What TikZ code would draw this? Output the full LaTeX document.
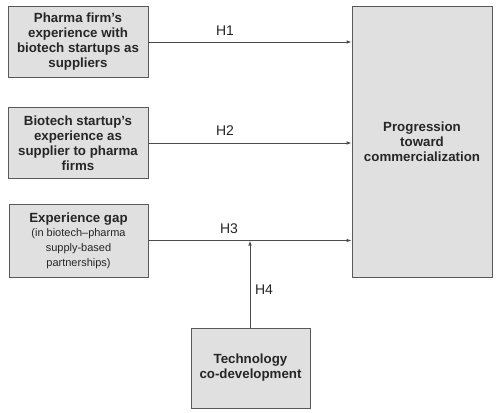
\documentclass[tikz,border=0pt]{standalone}
\usepackage{fontspec}
\setmainfont{Liberation Sans}
\usetikzlibrary{arrows.meta}
\begin{document}
\begin{tikzpicture}[x=1pt,y=-1pt,
  box/.style={draw=black!65, fill=black!12, line width=0.8pt, inner sep=0pt, align=center, text=black!85, font=\fontsize{13.3}{15}\selectfont\bfseries},
  conn/.style={draw=black!70, line width=0.8pt, -{Latex[length=5pt,width=3.5pt]}},
  hlab/.style={font=\fontsize{14}{16}\selectfont, text=black!85}]
\useasboundingbox (0,0) rectangle (500,412);
\node[box, minimum width=140pt, minimum height=71pt] (b1) at (78,41.5) {Pharma firm's\\experience with\\biotech startups as\\suppliers};
\node[box, minimum width=140pt, minimum height=71pt] (b2) at (78,143) {Biotech startup's\\experience as\\supplier to pharma\\firms};
\node[box, minimum width=139pt, minimum height=73pt] (b3) at (78.5,240.5) {Experience gap\\[-1pt]{\fontsize{11}{13.5}\selectfont\mdseries (in biotech--pharma}\\{\fontsize{11}{13.5}\selectfont\mdseries supply-based}\\{\fontsize{11}{13.5}\selectfont\mdseries partnerships)}};
\node[box, minimum width=119pt, minimum height=80pt] (b4) at (250.5,368) {Technology\\co-development};
\node[box, minimum width=140pt, minimum height=271pt] (p) at (422,141.5) {Progression\\toward\\commercialization};
\coordinate (j) at (250,240.5);
\draw[conn] (b1.east |- 0,42) -- (p.west |- 0,42);
\draw[conn] (b2.east) -- (p.west |- b2.east);
\draw[conn] (b3.east) -- (p.west |- b3.east);
\draw[conn] (b4.north -| j) -- (j);
\node[hlab] (h1) at (225,31) {H1};
\node[hlab] (h2) at (225,131) {H2};
\node[hlab] (h3) at (229,229) {H3};
\node[hlab] (h4) at (264,290) {H4};
\end{tikzpicture}
\end{document}
